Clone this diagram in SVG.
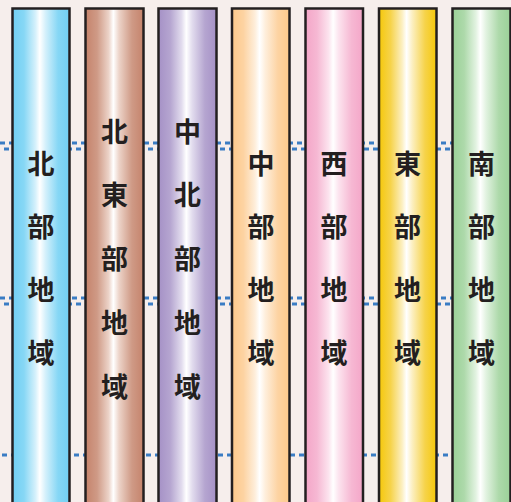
<svg xmlns="http://www.w3.org/2000/svg" width="511" height="502" viewBox="0 0 511 502">
<defs>
<linearGradient id="gBlue" x1="0" x2="1" y1="0" y2="0"><stop offset="0" stop-color="#72d0f4"/><stop offset="0.2" stop-color="#86d7f5"/><stop offset="0.4" stop-color="#d4f0fb"/><stop offset="0.48" stop-color="#ffffff"/><stop offset="0.58" stop-color="#d4f0fb"/><stop offset="0.8" stop-color="#86d7f5"/><stop offset="1" stop-color="#72d0f4"/></linearGradient>
<linearGradient id="gBrown" x1="0" x2="1" y1="0" y2="0"><stop offset="0" stop-color="#c5836c"/><stop offset="0.2" stop-color="#cf9a86"/><stop offset="0.4" stop-color="#ecd3c8"/><stop offset="0.48" stop-color="#ffffff"/><stop offset="0.58" stop-color="#ecd3c8"/><stop offset="0.8" stop-color="#cf9a86"/><stop offset="1" stop-color="#c5836c"/></linearGradient>
<linearGradient id="gPurple" x1="0" x2="1" y1="0" y2="0"><stop offset="0" stop-color="#a591c6"/><stop offset="0.2" stop-color="#b5a5d0"/><stop offset="0.4" stop-color="#e2dcee"/><stop offset="0.48" stop-color="#ffffff"/><stop offset="0.58" stop-color="#e2dcee"/><stop offset="0.8" stop-color="#b5a5d0"/><stop offset="1" stop-color="#a591c6"/></linearGradient>
<linearGradient id="gOrange" x1="0" x2="1" y1="0" y2="0"><stop offset="0" stop-color="#fdc98b"/><stop offset="0.2" stop-color="#fdd3a2"/><stop offset="0.4" stop-color="#feeedb"/><stop offset="0.48" stop-color="#ffffff"/><stop offset="0.58" stop-color="#feeedb"/><stop offset="0.8" stop-color="#fdd3a2"/><stop offset="1" stop-color="#fdc98b"/></linearGradient>
<linearGradient id="gPink" x1="0" x2="1" y1="0" y2="0"><stop offset="0" stop-color="#f4a6c8"/><stop offset="0.2" stop-color="#f6b8d3"/><stop offset="0.4" stop-color="#fce3ee"/><stop offset="0.48" stop-color="#ffffff"/><stop offset="0.58" stop-color="#fce3ee"/><stop offset="0.8" stop-color="#f6b8d3"/><stop offset="1" stop-color="#f4a6c8"/></linearGradient>
<linearGradient id="gYellow" x1="0" x2="1" y1="0" y2="0"><stop offset="0" stop-color="#f5c80a"/><stop offset="0.2" stop-color="#f6d34a"/><stop offset="0.4" stop-color="#fcefc0"/><stop offset="0.48" stop-color="#ffffff"/><stop offset="0.58" stop-color="#fcefc0"/><stop offset="0.8" stop-color="#f6d34a"/><stop offset="1" stop-color="#f5c80a"/></linearGradient>
<linearGradient id="gGreen" x1="0" x2="1" y1="0" y2="0"><stop offset="0" stop-color="#9bd198"/><stop offset="0.2" stop-color="#add9aa"/><stop offset="0.4" stop-color="#e1f2e0"/><stop offset="0.48" stop-color="#ffffff"/><stop offset="0.58" stop-color="#e1f2e0"/><stop offset="0.8" stop-color="#add9aa"/><stop offset="1" stop-color="#9bd198"/></linearGradient>
</defs>
<style>
.bar{stroke:#231f20;stroke-width:2.5}
.t{font-family:"Noto Sans CJK JP","Noto Sans CJK SC",sans-serif;font-weight:bold;font-size:27px;fill:#231f20;text-anchor:middle;dominant-baseline:central}
.dl{stroke:#3a7cc4;stroke-width:3;stroke-dasharray:5 4;fill:none}
</style>
<rect x="0" y="0" width="511" height="502" fill="#f6eeec"/>
<g id="connectors">
<line class="dl" x1="0" y1="143" x2="511" y2="143"/>
<line class="dl" x1="4" y1="149" x2="511" y2="149"/>
<line class="dl" x1="0" y1="298" x2="511" y2="298"/>
<line class="dl" x1="4" y1="304" x2="511" y2="304"/>
<line class="dl" x1="2" y1="455" x2="511" y2="455"/>
</g>
<g id="north">
<rect class="bar" x="12.5" y="8.5" width="57" height="500" fill="url(#gBlue)"/>
<text class="t" x="41" y="162">北</text><text class="t" x="41" y="225">部</text><text class="t" x="41" y="288">地</text><text class="t" x="41" y="351">域</text>
</g>
<g id="northeast">
<rect class="bar" x="85.5" y="8.5" width="58" height="500" fill="url(#gBrown)"/>
<text class="t" x="114.5" y="130">北</text><text class="t" x="114.5" y="193">東</text><text class="t" x="114.5" y="257">部</text><text class="t" x="114.5" y="321">地</text><text class="t" x="114.5" y="385">域</text>
</g>
<g id="centralnorth">
<rect class="bar" x="158.5" y="8.5" width="58" height="500" fill="url(#gPurple)"/>
<text class="t" x="187.5" y="130">中</text><text class="t" x="187.5" y="193">北</text><text class="t" x="187.5" y="257">部</text><text class="t" x="187.5" y="321">地</text><text class="t" x="187.5" y="385">域</text>
</g>
<g id="central">
<rect class="bar" x="232" y="8.5" width="57.5" height="500" fill="url(#gOrange)"/>
<text class="t" x="261" y="162">中</text><text class="t" x="261" y="225">部</text><text class="t" x="261" y="288">地</text><text class="t" x="261" y="351">域</text>
</g>
<g id="west">
<rect class="bar" x="305.5" y="8.5" width="57.5" height="500" fill="url(#gPink)"/>
<text class="t" x="334" y="162">西</text><text class="t" x="334" y="225">部</text><text class="t" x="334" y="288">地</text><text class="t" x="334" y="351">域</text>
</g>
<g id="east">
<rect class="bar" x="379" y="8.5" width="57.5" height="500" fill="url(#gYellow)"/>
<text class="t" x="407.5" y="162">東</text><text class="t" x="407.5" y="225">部</text><text class="t" x="407.5" y="288">地</text><text class="t" x="407.5" y="351">域</text>
</g>
<g id="south">
<rect class="bar" x="452.5" y="8.5" width="58" height="500" fill="url(#gGreen)"/>
<text class="t" x="481.5" y="162">南</text><text class="t" x="481.5" y="225">部</text><text class="t" x="481.5" y="288">地</text><text class="t" x="481.5" y="351">域</text>
</g>
</svg>
